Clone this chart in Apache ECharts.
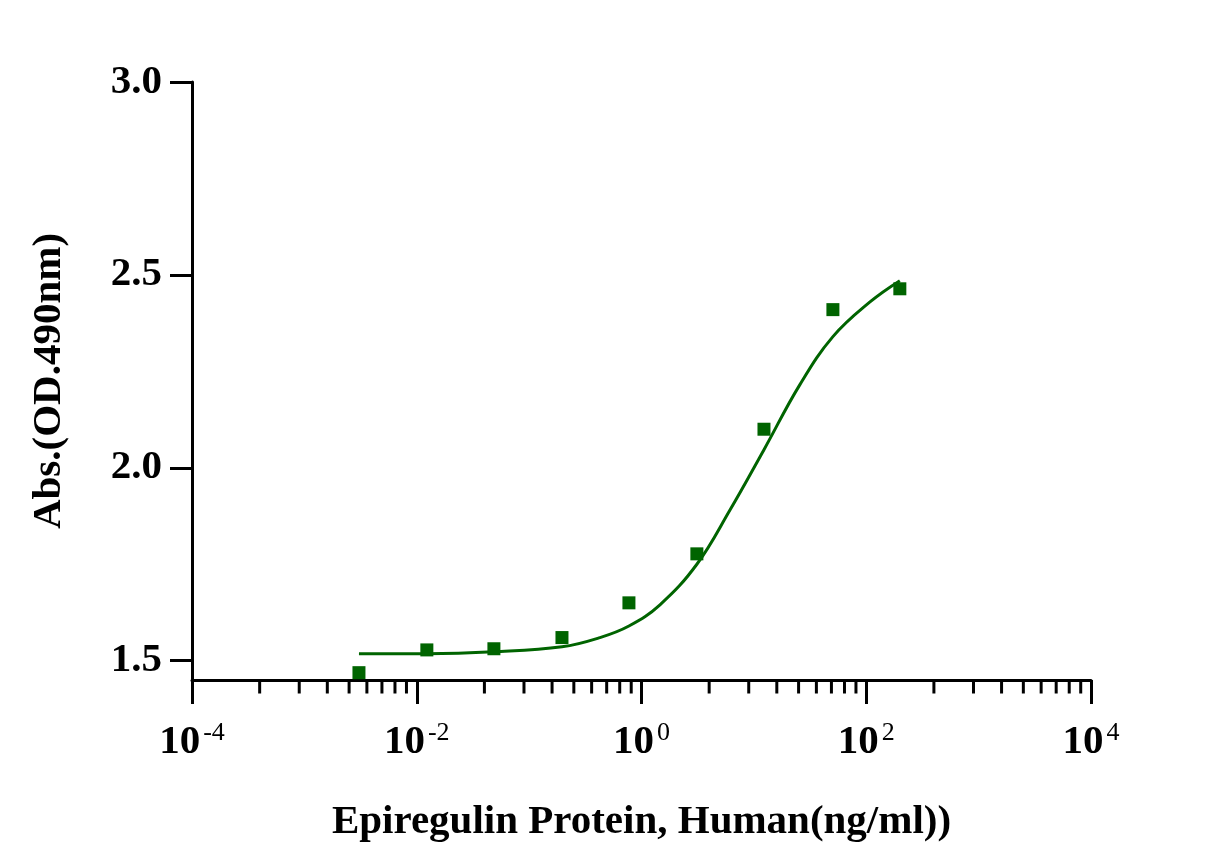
<!DOCTYPE html>
<html><head><meta charset="utf-8">
<script src="https://cdn.jsdelivr.net/npm/echarts@6/dist/echarts.min.js"></script>
<style>html,body{margin:0;background:#fff}#c{width:1217px;height:867px}</style>
</head><body><div id="c"></div>
<script>
// measured points
var conc = [0.00306, 0.0123, 0.0486, 0.196, 0.773, 3.11, 12.3, 50.5, 199];
var absorb = [1.469, 1.528, 1.531, 1.56, 1.65, 1.777, 2.10, 2.41, 2.464];
// fitted curve
var curveX = [0.00306, 0.0123, 0.0486, 0.196, 0.427, 0.773, 1.46, 3.11, 6.11, 12.3, 25.6, 50.5, 108, 199];
var curveY = [1.518, 1.518, 1.523, 1.536, 1.56, 1.59, 1.645, 1.75, 1.89, 2.047, 2.215, 2.34, 2.43, 2.485];
var majorTicks = [1e-4, 1e-2, 1, 1e2, 1e4];
var exps = ['-4', '-2', '0', '2', '4'];
var yTicks = [1.5, 2.0, 2.5, 3.0];

// prism-style minor ticks: 2..9 spread over each two-decade step
var minor = [];
for (var d = -4; d < 4; d += 2) {
  for (var k = 2; k <= 9; k++) minor.push([Math.pow(10, d + 2 * Math.log10(k)), 1.45]);
}

var green = '#006400';
var font = 'Liberation Serif';
var chart = echarts.init(document.getElementById('c'));
chart.setOption({
  backgroundColor: '#fff',
  animation: false,
  grid: { left: 192, right: 126, top: 82, bottom: 187 },
  xAxis: {
    type: 'log', logBase: 10, min: 1e-4, max: 1e4,
    name: 'Epiregulin Protein, Human(ng/ml))',
    nameLocation: 'middle', nameGap: 122,
    nameTextStyle: { fontFamily: font, fontWeight: 'bold', fontSize: 41, color: '#000' },
    axisLine: { lineStyle: { color: '#000', width: 3 } },
    axisTick: { customValues: majorTicks, length: 24, lineStyle: { color: '#000', width: 3 } },
    splitLine: { show: false },
    axisLabel: {
      customValues: majorTicks, margin: 40,
      formatter: function (v) {
        var i = majorTicks.indexOf(v);
        return '{b|10}{s|' + (i >= 0 ? exps[i] : '') + '}';
      },
      rich: {
        b: { fontFamily: font, fontWeight: 'bold', fontSize: 41, color: '#000' },
        s: { fontFamily: font, fontSize: 26, color: '#000', verticalAlign: 'top', padding: [0, 0, 18, 3] }
      }
    }
  },
  yAxis: {
    type: 'value', min: 1.45, max: 3.0,
    name: 'Abs.(OD.490nm)', nameLocation: 'middle', nameGap: 122,
    nameTextStyle: { fontFamily: font, fontWeight: 'bold', fontSize: 41, color: '#000' },
    axisLine: { show: true, lineStyle: { color: '#000', width: 3 } },
    axisTick: { customValues: yTicks, length: 22, lineStyle: { color: '#000', width: 3 } },
    splitLine: { show: false },
    axisLabel: {
      customValues: yTicks, margin: 30,
      formatter: function (v) { return v.toFixed(1); },
      fontFamily: font, fontWeight: 'bold', fontSize: 41, color: '#000'
    }
  },
  series: [
    {
      type: 'line', data: curveX.map(function (x, i) { return [x, curveY[i]]; }),
      smooth: 0.4, showSymbol: false, lineStyle: { color: green, width: 3 }
    },
    {
      type: 'scatter', data: conc.map(function (x, i) { return [x, absorb[i]]; }),
      symbol: 'rect', symbolSize: 13, itemStyle: { color: green, opacity: 1 }
    },
    {
      type: 'scatter', data: minor, symbol: 'rect', symbolSize: [3, 13],
      symbolOffset: [0, 7], clip: false, silent: true, itemStyle: { color: '#000', opacity: 1 }
    }
  ]
});
</script></body></html>
